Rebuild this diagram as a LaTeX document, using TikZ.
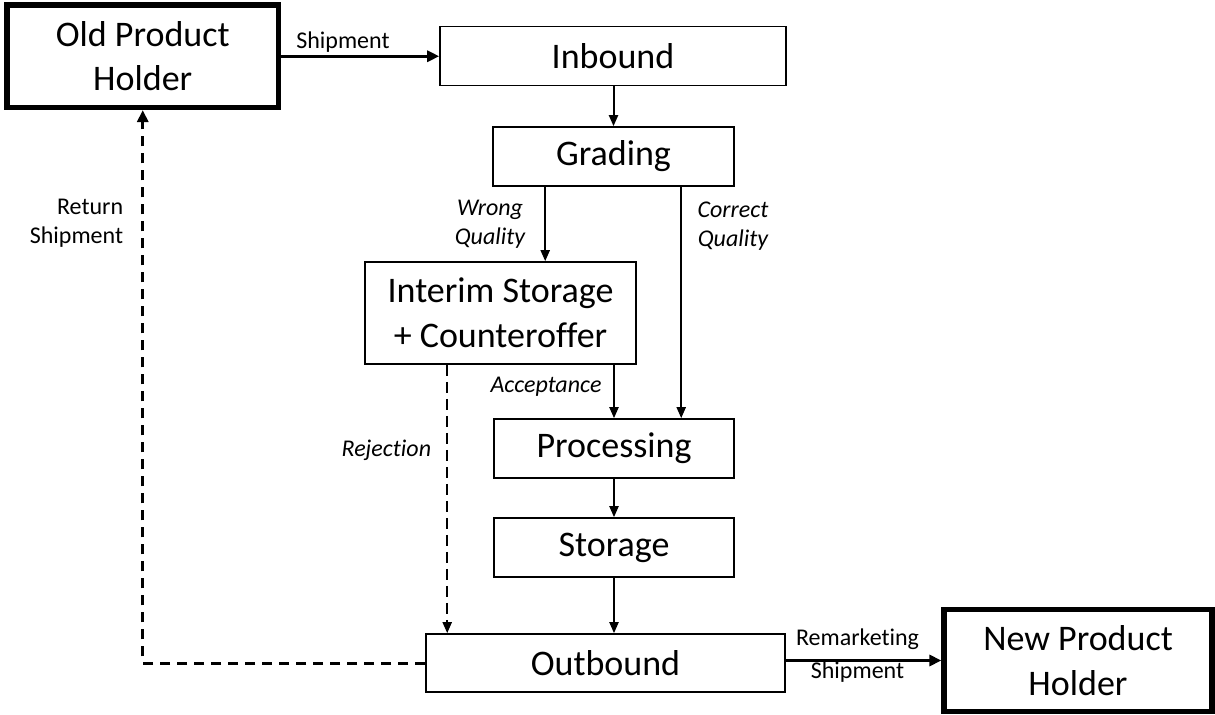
\documentclass[tikz,border=0pt]{standalone}
\usepackage{fontspec}
\setmainfont[Ligatures=NoCommon]{Carlito}
\usetikzlibrary{arrows.meta,calc}
\begin{document}
\begin{tikzpicture}[x=0.5pt,y=-0.5pt,
  box/.style={draw,line width=0.8pt,rectangle,inner sep=0pt,align=center,font=\fontsize{18}{22.3}\selectfont},
  bigbox/.style={box,line width=2.6pt},
  lbl/.style={inner sep=0pt,align=center,font=\fontsize{12}{14.5}\selectfont},
  ilbl/.style={lbl,font=\fontsize{12}{14.5}\selectfont\itshape},
  arr/.style={line width=1pt,-{Triangle[length=5.5pt,width=4.5pt]}},
  thickarr/.style={line width=1.5pt,-{Triangle[length=6pt,width=5.5pt]}},
  dasharr/.style={arr,dash pattern=on 5.5pt off 3pt},
  thickdash/.style={thickarr,dash pattern=on 5pt off 3.5pt}]
\useasboundingbox (0,0) rectangle (1215,715);
\node[bigbox,minimum width=135.75pt,minimum height=51.25pt] (oph) at (142.75,56.25) {Old Product\\Holder};
\node[box,minimum width=173pt,minimum height=29.5pt] (inb) at (613,56.2) {Inbound};
\node[box,minimum width=120.5pt,minimum height=29.5pt] (grad) at (613.5,156.5) {Grading};
\node[box,minimum width=135.5pt,minimum height=51pt] (intr) at (500.5,313) {Interim Storage\\+ Counteroffer};
\node[box,minimum width=120pt,minimum height=29.5pt] (proc) at (614,448.5) {Processing};
\node[box,minimum width=120pt,minimum height=29.5pt] (stor) at (614,547.5) {Storage};
\node[box,minimum width=179.5pt,minimum height=29pt] (outb) at (605.5,663) {Outbound};
\node[bigbox,minimum width=134pt,minimum height=51pt] (nph) at (1078,660.5) {New Product\\Holder};
% connectors
\draw[thickarr] (oph.east) -- (oph.east -| inb.west);
\draw[arr] (inb.south -| grad.north) -- (grad.north);
\coordinate (wq) at ($(grad.south west)+(53,0)$);
\coordinate (cq) at ($(grad.south west)+(189,0)$);
\draw[arr] (wq) -- (wq |- intr.north);
\draw[arr] (cq) -- (cq |- proc.north);
\draw[arr] (intr.south -| proc.north) -- (proc.north);
\draw[arr] (proc.south) -- (stor.north);
\draw[arr] (stor.south) -- (stor.south |- outb.north);
\coordinate (rj) at ($(intr.south west)+(83,0)$);
\draw[dasharr] (rj) -- (rj |- outb.north);
\draw[thickdash] (outb.west) -| (oph.south);
\coordinate (rm) at ($(outb.east)+(0,-2.5)$);
\draw[thickarr] (rm) -- (rm -| nph.west);
% labels
\node[lbl] (lship) at (343,42) {Shipment};
\node[lbl,align=right,anchor=east] (lret) at (123.5,223) {Return\\Shipment};
\node[ilbl] (lwq) at (490,224) {Wrong\\Quality};
\node[ilbl] (lcq) at (733,226) {Correct\\Quality};
\node[ilbl] (lacc) at (546,387) {Acceptance};
\node[ilbl,anchor=east] (lrej) at (431.5,450) {Rejection};
\node[lbl] (lrem) at (857.5,639) {Remarketing};
\node[lbl] (lrship) at (857.5,672) {Shipment};
\end{tikzpicture}
\end{document}
